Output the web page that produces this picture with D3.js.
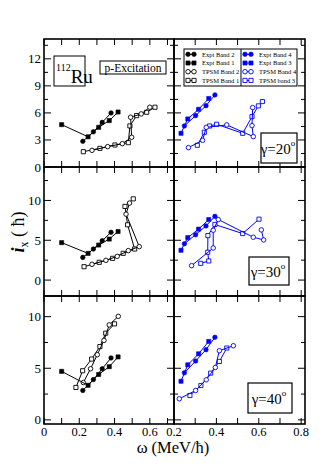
<!DOCTYPE html>
<html>
<head>
<meta charset="utf-8">
<script src="https://cdn.jsdelivr.net/npm/d3@7"></script>
<style>
  body { margin: 0; background: #fff; }
  svg { display: block; font-family: "Liberation Serif", "Times New Roman", "DejaVu Serif", serif; }
</style>
</head>
<body>
<svg id="chart" width="329" height="466"></svg>
<script>
// experimental bands (same in every row)
const exptBand1 = [[0.10, 4.7], [0.25, 3.35], [0.31, 4.4], [0.37, 5.15], [0.42, 6.1]];
const exptBand2 = [[0.22, 2.85], [0.28, 3.9], [0.33, 4.95], [0.38, 6.0]];
const exptBand3 = [[0.233, 3.74], [0.265, 5.33], [0.316, 6.4], [0.364, 7.6]];
const exptBand4 = [[0.249, 4.56], [0.302, 5.7], [0.351, 6.8], [0.393, 8.0]];

// TPSM, gamma = 20
const tpsmBand1_20 = [[0.223, 1.7], [0.317, 2.07], [0.402, 2.44], [0.478, 2.7], [0.487, 4.56], [0.525, 5.7], [0.582, 6.07], [0.629, 6.63]];
const tpsmBand2_20 = [[0.272, 1.85], [0.361, 2.26], [0.444, 2.59], [0.497, 3.3], [0.491, 5.52], [0.551, 5.89], [0.60, 6.63]];
const tpsmBand3_20 = [[0.31, 2.41], [0.343, 3.85], [0.368, 4.55], [0.401, 4.74], [0.524, 3.74], [0.568, 5.59], [0.598, 6.78], [0.617, 7.26]];
const tpsmBand4_20 = [[0.268, 2.15], [0.335, 2.96], [0.352, 4.4], [0.449, 4.67], [0.574, 3.37], [0.568, 4.59], [0.571, 6.59]];

// TPSM, gamma = 30
const tpsmBand1_30 = [[0.227, 1.68], [0.313, 2.23], [0.389, 2.73], [0.449, 3.36], [0.514, 3.9], [0.474, 6.94], [0.459, 9.25], [0.506, 10.2]];
const tpsmBand2_30 = [[0.272, 1.98], [0.351, 2.48], [0.415, 2.98], [0.478, 3.7], [0.54, 4.2], [0.465, 8.28], [0.485, 9.67]];
const tpsmBand3_30 = [[0.326, 2.1], [0.364, 2.4], [0.359, 3.49], [0.36, 5.59], [0.393, 6.98], [0.524, 5.84], [0.601, 7.65]];
const tpsmBand4_30 = [[0.283, 1.81], [0.385, 4.03], [0.385, 6.26], [0.409, 7.6], [0.574, 5.38], [0.623, 5.04], [0.612, 6.3]];

// TPSM, gamma = 40
const tpsmBand1_40 = [[0.181, 3.14], [0.219, 4.76], [0.27, 5.89], [0.317, 7.1], [0.35, 8.4], [0.40, 9.3]];
const tpsmBand2_40 = [[0.223, 3.62], [0.264, 4.95], [0.302, 6.31], [0.34, 7.7], [0.37, 9.2], [0.421, 10.03]];
const tpsmBand3_40 = [[0.275, 2.36], [0.327, 3.33], [0.373, 4.53], [0.414, 5.66], [0.449, 6.96]];
const tpsmBand4_40 = [[0.225, 2.04], [0.302, 2.85], [0.352, 3.88], [0.395, 5.08], [0.414, 6.7], [0.48, 7.18]];

const gammaLabels = ['20', '30', '40'];
const legendLeft = ['Expt Band 2', 'Expt Band 1', 'TPSM Band 2', 'TPSM Band 1'];
const legendRight = ['Expt Band 4', 'Expt Band 3', 'TPSM Band 4', 'TPSM band 3'];

const svg = d3.select('#chart');
const black = '#000';
const blue = '#0000ff';

const colX = [
  d3.scaleLinear().domain([0, 0.737]).range([44, 174]),
  d3.scaleLinear().domain([0.2, 0.818]).range([174, 305])
];
const rows = [
  { y: d3.scaleLinear().domain([0, 14.2]).range([167, 39]), major: 3, minor: 1.5 },
  { y: d3.scaleLinear().domain([-2, 14.2]).range([296, 167]), major: 5, minor: 2.5 },
  { y: d3.scaleLinear().domain([-0.4, 12]).range([424, 296]), major: 5, minor: 2.5 }
];
const tpsm = [
  [tpsmBand1_20, tpsmBand2_20, tpsmBand3_20, tpsmBand4_20],
  [tpsmBand1_30, tpsmBand2_30, tpsmBand3_30, tpsmBand4_30],
  [tpsmBand1_40, tpsmBand2_40, tpsmBand3_40, tpsmBand4_40]
];

const range = (a, b, s) => d3.range(Math.ceil(a / s - 1e-9) * s, b + 1e-9, s).map(v => +v.toFixed(4));

const drawSeries = (g, data, x, y, color, shape, filled) => {
  g.append('path')
    .datum(data)
    .attr('d', d3.line().x(d => x(d[0])).y(d => y(d[1])))
    .attr('fill', 'none')
    .attr('stroke', color)
    .attr('stroke-width', 1);
  const sym = d3.symbol().type(shape === 'circle' ? d3.symbolCircle : d3.symbolSquare)
    .size(shape === 'circle' ? 16 : 17);
  g.selectAll(null)
    .data(data)
    .enter()
    .append('path')
    .attr('d', sym)
    .attr('transform', d => `translate(${x(d[0])},${y(d[1])})`)
    .attr('fill', filled ? color : '#fff')
    .attr('stroke', color)
    .attr('stroke-width', filled ? 0.6 : 0.9);
};

rows.forEach((row, r) => {
  colX.forEach((x, c) => {
    const y = row.y;
    const g = svg.append('g');
    const [x0, x1] = x.range();
    const [y0, y1] = y.range();

    // data
    if (c === 0) {
      drawSeries(g, tpsm[r][0], x, y, black, 'square', false);
      drawSeries(g, tpsm[r][1], x, y, black, 'circle', false);
      drawSeries(g, exptBand1, x, y, black, 'square', true);
      drawSeries(g, exptBand2, x, y, black, 'circle', true);
    } else {
      drawSeries(g, tpsm[r][2], x, y, blue, 'square', false);
      drawSeries(g, tpsm[r][3], x, y, blue, 'circle', false);
      drawSeries(g, exptBand3, x, y, blue, 'square', true);
      drawSeries(g, exptBand4, x, y, blue, 'circle', true);
    }

    // ticks, inward on all four sides
    const [dx0, dx1] = x.domain();
    const [dy0, dy1] = y.domain();
    const xt = range(dx0, dx1, 0.1);
    xt.forEach(v => {
      g.append('line').attr('x1', x(v)).attr('x2', x(v)).attr('y1', y0).attr('y2', y0 - 6).attr('stroke', black);
      g.append('line').attr('x1', x(v)).attr('x2', x(v)).attr('y1', y1).attr('y2', y1 + 6).attr('stroke', black);
    });
    const ytMajor = range(dy0, dy1, row.major);
    const ytMinor = range(dy0, dy1, row.minor).filter(v => ytMajor.indexOf(v) < 0);
    ytMajor.forEach(v => {
      g.append('line').attr('x1', x0).attr('x2', x0 + 7).attr('y1', y(v)).attr('y2', y(v)).attr('stroke', black);
      g.append('line').attr('x1', x1).attr('x2', x1 - 7).attr('y1', y(v)).attr('y2', y(v)).attr('stroke', black);
    });
    ytMinor.forEach(v => {
      g.append('line').attr('x1', x0).attr('x2', x0 + 4).attr('y1', y(v)).attr('y2', y(v)).attr('stroke', black);
      g.append('line').attr('x1', x1).attr('x2', x1 - 4).attr('y1', y(v)).attr('y2', y(v)).attr('stroke', black);
    });

    g.append('rect')
      .attr('x', x0).attr('y', y1)
      .attr('width', x1 - x0).attr('height', y0 - y1)
      .attr('fill', 'none').attr('stroke', black).attr('stroke-width', 1.6);

    // y tick labels on the left column
    if (c === 0) {
      g.selectAll(null)
        .data(ytMajor)
        .enter()
        .append('text')
        .attr('x', x0 - 3)
        .attr('y', v => y(v) + 4.5)
        .attr('text-anchor', 'end')
        .attr('font-size', 13)
        .text(v => v);
    }
    // x tick labels on the bottom row
    if (r === 2) {
      g.selectAll(null)
        .data(range(dx0, dx1, 0.2).filter(v => Math.abs(v * 10) % 2 < 1e-6))
        .enter()
        .append('text')
        .attr('x', v => x(v))
        .attr('y', y0 + 12)
        .attr('text-anchor', 'middle')
        .attr('font-size', 12.5)
        .text(v => v === 0 ? '0' : v.toFixed(1));
    }

    // gamma label box
    if (c === 1) {
      const boxes = [[261, 133, 36, 30], [249, 257, 40, 28], [248, 383, 44, 30]];
      const [bx, by, bw, bh] = boxes[r];
      g.append('rect').attr('x', bx).attr('y', by).attr('width', bw).attr('height', bh)
        .attr('fill', '#fff').attr('stroke', black).attr('stroke-width', 1.2);
      const t = g.append('text').attr('x', bx + bw / 2 - 1).attr('y', by + bh / 2 + 6)
        .attr('text-anchor', 'middle').attr('font-size', 15);
      t.append('tspan').text('γ=' + gammaLabels[r]);
      t.append('tspan').attr('font-size', 9).attr('dy', -8).text('o');
    }
  });
});

// 112Ru box
svg.append('rect').attr('x', 54).attr('y', 56).attr('width', 31).attr('height', 30)
  .attr('fill', '#fff').attr('stroke', black).attr('stroke-width', 1);
const ru = svg.append('text').attr('x', 56).attr('y', 83).attr('font-size', 19);
ru.append('tspan').attr('font-size', 10).attr('dy', -12).text('112');
ru.append('tspan').attr('dy', 12).text('Ru');

// p-Excitation box
svg.append('rect').attr('x', 100).attr('y', 61).attr('width', 66).attr('height', 13)
  .attr('fill', '#fff').attr('stroke', black).attr('stroke-width', 1);
svg.append('text').attr('x', 133).attr('y', 71.5).attr('text-anchor', 'middle')
  .attr('font-size', 11.5).text('p-Excitation');

// legend
const lg = svg.append('g');
lg.append('rect').attr('x', 184).attr('y', 49).attr('width', 113).attr('height', 37)
  .attr('fill', '#fff').attr('stroke', black).attr('stroke-width', 1);
lg.append('line').attr('x1', 241).attr('x2', 241).attr('y1', 49).attr('y2', 86).attr('stroke', black);
const legendSym = [['circle', true], ['square', true], ['circle', false], ['square', false]];
[[legendLeft, 188, black], [legendRight, 245, blue]].forEach(([labels, lx, color]) => {
  labels.forEach((label, i) => {
    const ly = 54.3 + i * 8.7;
    const pts = [[lx, ly], [lx + 6, ly]];
    drawSeries(lg, pts, d => d, d => d, color, legendSym[i][0], legendSym[i][1]);
    lg.append('text').attr('x', lx + 14).attr('y', ly + 2.3).attr('font-size', 6.5).text(label);
  });
});

// axis titles
svg.append('text').attr('x', 173).attr('y', 453).attr('text-anchor', 'middle')
  .attr('font-size', 16.5).text('ω (MeV/ħ)');
const yt = svg.append('text').attr('transform', 'translate(24,232) rotate(-90)')
  .attr('text-anchor', 'middle').attr('font-size', 18);
yt.append('tspan').attr('font-style', 'italic').attr('font-weight', 'bold').text('i');
yt.append('tspan').attr('font-size', 12).attr('dy', 4).text('x');
yt.append('tspan').attr('dy', -4).text(' ( ħ)');
</script>
</body>
</html>
